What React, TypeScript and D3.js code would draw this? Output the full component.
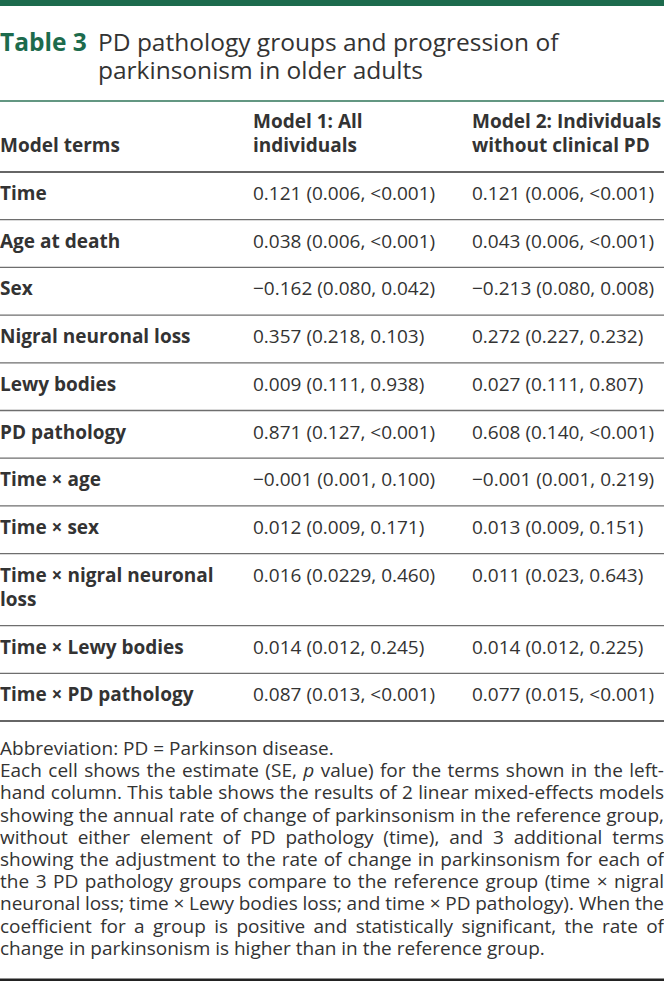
import React, { useRef, useEffect } from 'react';
import * as d3 from 'd3';

const TABLE_LABEL = 'Table 3';
const TITLE_LINES = ['PD pathology groups and progression of', 'parkinsonism in older adults'];

const COLUMN_HEADERS = [
  ['Model terms'],
  ['Model 1: All', 'individuals'],
  ['Model 2: Individuals', 'without clinical PD'],
];

const TERMS = [
  ['Time'],
  ['Age at death'],
  ['Sex'],
  ['Nigral neuronal loss'],
  ['Lewy bodies'],
  ['PD pathology'],
  ['Time × age'],
  ['Time × sex'],
  ['Time × nigral neuronal', 'loss'],
  ['Time × Lewy bodies'],
  ['Time × PD pathology'],
];

const MODEL_1 = [
  '0.121 (0.006, <0.001)',
  '0.038 (0.006, <0.001)',
  '−0.162 (0.080, 0.042)',
  '0.357 (0.218, 0.103)',
  '0.009 (0.111, 0.938)',
  '0.871 (0.127, <0.001)',
  '−0.001 (0.001, 0.100)',
  '0.012 (0.009, 0.171)',
  '0.016 (0.0229, 0.460)',
  '0.014 (0.012, 0.245)',
  '0.087 (0.013, <0.001)',
];

const MODEL_2 = [
  '0.121 (0.006, <0.001)',
  '0.043 (0.006, <0.001)',
  '−0.213 (0.080, 0.008)',
  '0.272 (0.227, 0.232)',
  '0.027 (0.111, 0.807)',
  '0.608 (0.140, <0.001)',
  '−0.001 (0.001, 0.219)',
  '0.013 (0.009, 0.151)',
  '0.011 (0.023, 0.643)',
  '0.014 (0.012, 0.225)',
  '0.077 (0.015, <0.001)',
];

// [text, justified]; "*p*" marks the italic p
const FOOTNOTE_LINES: [string, boolean][] = [
  ['Abbreviation: PD = Parkinson disease.', false],
  ['Each cell shows the estimate (SE, *p* value) for the terms shown in the left-', true],
  ['hand column. This table shows the results of 2 linear mixed-effects models', true],
  ['showing the annual rate of change of parkinsonism in the reference group,', true],
  ['without either element of PD pathology (time), and 3 additional terms', true],
  ['showing the adjustment to the rate of change in parkinsonism for each of', true],
  ['the 3 PD pathology groups compare to the reference group (time × nigral', true],
  ['neuronal loss; time × Lewy bodies loss; and time × PD pathology). When the', true],
  ['coefficient for a group is positive and statistically significant, the rate of', true],
  ['change in parkinsonism is higher than in the reference group.', false],
];

const width = 664;
const height = 981;
const green = '#1d6b4d';
const ink = '#333';
const font = "'Open Sans', 'Noto Sans', sans-serif";
const cellSize = 19;

const Table = () => {
  const ref = useRef(null);

  useEffect(() => {
    const svg = d3.select(ref.current);
    svg.selectAll('*').remove();

    // columns
    const x = d3.scaleOrdinal<number, number>().domain([0, 1, 2]).range([0, 253, 472]);

    // rows: height grows with the number of text lines
    const rows = TERMS.map((t, i) => ({ term: t, m1: MODEL_1[i], m2: MODEL_2[i] }));
    const unit = d3.scaleLinear().domain([0, 1]).range([23.4, 47.7]); // lines -> px
    let acc = 172;
    const tops = rows.map(r => {
      const top = acc;
      acc += unit(r.term.length);
      return top;
    });
    const tableBottom = acc;
    const lineStep = unit(1) - unit(0);

    // top bar
    svg.append('rect').attr('x', 0).attr('y', 0).attr('width', width).attr('height', 6).attr('fill', green);

    // title
    svg
      .append('text')
      .attr('x', 0)
      .attr('y', 51)
      .attr('font-family', font)
      .attr('font-size', 24.5)
      .attr('font-weight', 700)
      .attr('fill', green)
      .text(TABLE_LABEL);
    svg
      .selectAll('text.title')
      .data(TITLE_LINES)
      .enter()
      .append('text')
      .attr('class', 'title')
      .attr('x', 98)
      .attr('y', (d, i) => 51 + i * 27.5)
      .attr('font-family', font)
      .attr('font-size', 24.5)
      .attr('fill', ink)
      .text(d => d);

    // header rules
    svg.append('line').attr('x1', 0).attr('x2', width).attr('y1', 101).attr('y2', 101)
      .attr('stroke', '#2f7459').attr('stroke-width', 1.6);
    svg.append('line').attr('x1', 0).attr('x2', width).attr('y1', 172).attr('y2', 172)
      .attr('stroke', '#333').attr('stroke-width', 1.6);

    // column headers (bottom aligned)
    COLUMN_HEADERS.forEach((lines, c) => {
      svg
        .append('g')
        .selectAll('text')
        .data(lines)
        .enter()
        .append('text')
        .attr('x', x(c))
        .attr('y', (d, i) => 152 - (lines.length - 1 - i) * 24)
        .attr('font-family', font)
        .attr('font-size', cellSize)
        .attr('font-weight', 700)
        .attr('fill', ink)
        .text(d => d);
    });

    // body rows
    const g = svg.selectAll('g.row').data(rows).enter().append('g').attr('class', 'row')
      .attr('transform', (d, i) => `translate(0,${tops[i]})`);

    g.each(function (d) {
      const row = d3.select(this);
      row
        .selectAll('text.term')
        .data(d.term)
        .enter()
        .append('text')
        .attr('class', 'term')
        .attr('x', x(0))
        .attr('y', (t, i) => 28 + i * lineStep)
        .attr('font-family', font)
        .attr('font-size', cellSize)
        .attr('font-weight', 700)
        .attr('fill', ink)
        .text(t => t);
      [d.m1, d.m2].forEach((v, k) => {
        row
          .append('text')
          .attr('x', x(k + 1))
          .attr('y', 28)
          .attr('font-family', font)
          .attr('font-size', cellSize)
          .attr('fill', ink)
          .text(v);
      });
    });

    // row separators
    svg
      .selectAll('line.sep')
      .data(tops.slice(1))
      .enter()
      .append('line')
      .attr('class', 'sep')
      .attr('x1', 0)
      .attr('x2', width)
      .attr('y1', d => d)
      .attr('y2', d => d)
      .attr('stroke', '#6e6e6e')
      .attr('stroke-width', 1.3);

    svg.append('line').attr('x1', 0).attr('x2', width).attr('y1', tableBottom).attr('y2', tableBottom)
      .attr('stroke', '#333').attr('stroke-width', 1.6);

    // footnote, justified by word spacing
    const foot = svg
      .selectAll('text.foot')
      .data(FOOTNOTE_LINES)
      .enter()
      .append('text')
      .attr('class', 'foot')
      .attr('x', 0)
      .attr('y', (d, i) => 755 + i * 22.2)
      .attr('font-family', font)
      .attr('font-size', 19)
      .attr('fill', ink);

    foot.each(function ([line]) {
      const t = d3.select(this);
      line.split(/(\*p\*)/).forEach(part => {
        if (part === '*p*') t.append('tspan').attr('font-style', 'italic').text('p');
        else if (part) t.append('tspan').text(part);
      });
    });

    foot.each(function ([line, justified]) {
      if (!justified) return;
      const node = this as SVGTextElement;
      const len = node.getComputedTextLength();
      const spaces = (line.match(/ /g) || []).length;
      if (spaces > 0) d3.select(node).attr('word-spacing', (width - len) / spaces);
    });

    // bottom rule
    svg.append('rect').attr('x', 0).attr('y', 978.5).attr('width', width).attr('height', 2.5).attr('fill', '#222');
  }, []);

  return <svg ref={ref} width={width} height={height} style={{ display: 'block' }} />;
};

export default function App() {
  return (
    <>
      <style>{`body { margin: 0; }`}</style>
      <Table />
    </>
  );
}
